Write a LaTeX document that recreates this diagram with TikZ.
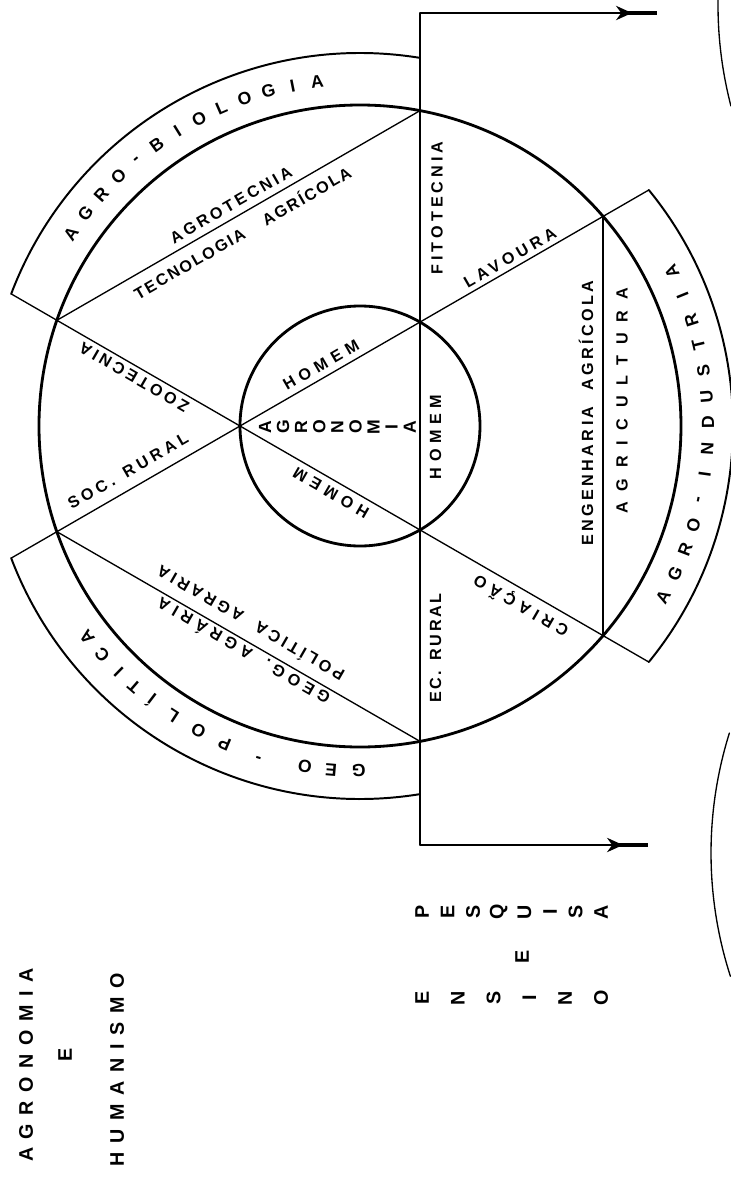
\documentclass[tikz,border=0pt]{standalone}
\usepackage{fontspec}
\setmainfont{Liberation Sans}
\newfontfamily\agrofont{Liberation Sans}
\usetikzlibrary{arrows.meta}
\tikzset{
  every picture/.append style={line cap=round,line join=round},
  agro ring/.style={line width=2pt},
  agro band/.style={line width=1.4pt},
  agro chord/.style={line width=0.95pt},
  agro flow/.style={line width=0.95pt,-{Stealth[length=4mm,width=3.6mm]}},
  agro bar/.style={line width=2.6pt,line cap=butt},
  agro label/.style={font={\agrofont\bfseries\fontsize{11.5}{11.5}\selectfont\addfontfeature{LetterSpace=#1}},inner sep=0pt},
  agro label/.default=25,
  agro letter/.style={font={\agrofont\bfseries\fontsize{12.5}{12.5}\selectfont},inner sep=0pt},
  agro title/.style={font={\agrofont\bfseries\fontsize{14}{14}\selectfont\addfontfeature{LetterSpace=#1}},inner sep=0pt,rotate=90},
  agro stack/.style={font={\agrofont\bfseries\fontsize{14}{14}\selectfont},inner sep=0pt,rotate=90}
}

\begin{document}
\begin{tikzpicture}[x=0.025cm,y=0.025cm]
  \useasboundingbox (-360,-754) rectangle (371,426);
  % points on the circle and on the outer bands
  \coordinate (c) at (0,0);
  \coordinate (v1) at (79.227:321);
  \coordinate (v2) at (160.773:321);
  \coordinate (v3) at (199.227:321);
  \coordinate (v4) at (280.773:321);
  \coordinate (v5) at (319.227:321);
  \coordinate (v6) at (40.773:321);
  \coordinate (b2) at (159.256:373);
  \coordinate (b3) at (200.744:373);
  \coordinate (b4) at (279.256:373);
  \coordinate (b5) at (320.744:373);
  \coordinate (b6) at (39.256:373);
  \coordinate (t0) at (60,413);
  \coordinate (u0) at (60,-419);

  \draw[agro ring] (c) circle[radius=321];
  \draw[agro ring] (c) circle[radius=120];

  \draw[agro chord] (t0) -- (u0);
  \draw[agro chord] (b3) -- (b6);
  \draw[agro chord] (b2) -- (b5);
  \draw[agro chord] (v1) -- (v2);
  \draw[agro chord] (v3) -- (v4);
  \draw[agro chord] (v5) -- (v6);

  \draw[agro band] (b2) arc[start angle=159.256, end angle=80.744, radius=373];
  \draw[agro band] (b4) arc[start angle=279.256, end angle=200.744, radius=373];
  \draw[agro band] (b5) arc[start angle=-39.256, end angle=39.256, radius=373];

  % arrows out of the vertical line
  \coordinate (t1) at (272,413);
  \coordinate (t2) at (267,413);
  \coordinate (t3) at (297,413);
  \draw[agro flow] (t0) -- (t1);
  \draw[agro bar] (t2) -- (t3);
  \coordinate (u1) at (263,-419);
  \coordinate (u2) at (258,-419);
  \coordinate (u3) at (288,-419);
  \draw[agro flow] (u0) -- (u1);
  \draw[agro bar] (u2) -- (u3);

  % arcs at the right edge
  \draw[agro chord] (759,421) ++(179.3:401) arc[start angle=179.3, end angle=194.6, radius=401];
  \draw[agro chord] (752,-427) ++(162.6:401) arc[start angle=162.6, end angle=197.9, radius=401];

  % labels along the chords
  \node[agro label=25, rotate=90] (fito) at (77,218) {FITOTECNIA};
  \node[agro label=20, rotate=30] (agrotec) at (-129,221) {AGROTECNIA};
  \node[agro label=12, rotate=30] (tecno) at (-118,194) {TECNOLOGIA\hspace{1em} AGRÍCOLA};
  \node[agro label=26, rotate=30] (lavoura) at (150,168) {LAVOURA};
  \node[agro label=25, rotate=30] (soc) at (-232,-45) {SOC.\hspace{0.2em} RURAL};
  \node[agro label=35, rotate=30] (homemA) at (-39,61) {HOMEM};
  \node[agro label=35, rotate=90] (homemB) at (75.5,-11) {HOMEM};
  \node[agro label=35, rotate=150] (homemC) at (-29,-67) {HOMEM};
  \node[agro label=22, rotate=150] (zoo) at (-226,49) {ZOOTECNIA};
  \node[agro label=32, rotate=150] (criacao) at (161,-180) {CRIAÇÃO};
  \node[agro label=16, rotate=90] (ecrural) at (75.5,-222) {EC.\hspace{0.2em} RURAL};
  \node[agro label=22, rotate=150] (politica) at (-110,-198) {POLÍTICA\hspace{0.5em} AGRARIA};
  \node[agro label=32, rotate=150] (geog) at (-117,-226) {GEOG.\hspace{0.4em} AGRÁRIA};
  \node[agro label=21, rotate=90] (engenharia) at (226,13) {ENGENHARIA\hspace{0.5em} AGRÍCOLA};
  \node[agro label=67, rotate=90] (agricultura) at (262,25) {AGRICULTURA};

  \foreach \ch [count=\i from 0] in {A,G,R,O,N,O,M,I,A}
    \node[agro letter, rotate=90] (agr\i) at ({-95+\i*18.1},-1) {\ch};

  % letters on the bands
  \foreach \ch [count=\i from 0] in {A,G,R,O,-,B,I,O,L,O,G,I,A}
    \node[agro letter, rotate={146.4-\i*4.108-90}] (bio\i) at ({146.4-\i*4.108}:347) {\ch};
  \foreach \ch [count=\i from 0] in {A,G,R,O,-,I,N,D,U,S,T,R,I,A}
    \node[agro letter, rotate={-29.4+\i*4.285+90}] (ind\i) at ({-29.4+\i*4.285}:348) {\ch};
  \foreach \ch/\ang [count=\i] in {G/269.8,E/265.2,O/260.8,-/253.0,P/246.9,O/242.1,L/237.1,Í/232.7,T/229.1,I/225.6,C/221.6,A/217.7}
    \node[agro letter, rotate=\ang-90] (geo\i) at (\ang:345) {\ch};

  % titles
  \node[agro title=44] (agronomia) at (-334,-639) {AGRONOMIA};
  \node[agro stack] (e1) at (-295,-629) {E};
  \node[agro title=44] (humanismo) at (-243,-644) {HUMANISMO};
  \foreach \ch [count=\i from 0] in {P,E,S,Q,U,I,S,A}
    \node[agro stack] (pes\i) at ({62+\i*25.6},-486) {\ch};
  \node[agro stack] (e2) at (162,-531) {E};
  \foreach \ch [count=\i from 0] in {E,N,S,I,N,O}
    \node[agro stack] (ens\i) at ({62+\i*35.8},-572) {\ch};
\end{tikzpicture}
\end{document}
